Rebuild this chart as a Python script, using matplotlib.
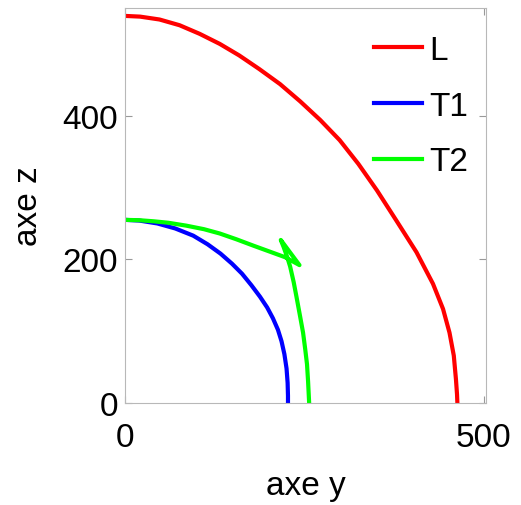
import matplotlib
matplotlib.use("Agg")
import matplotlib.pyplot as plt

plt.rcParams['font.family'] = ['Liberation Sans', 'DejaVu Sans']

# values (y, z)
L_y = [0, 21, 48, 76, 104, 132, 159, 187, 216, 244, 272, 299, 325, 351, 378,
       406, 429, 443, 452, 458, 461, 462.5, 463]
L_z = [539, 538, 534, 526, 514, 500, 484, 465, 444, 420, 394, 366, 333, 296, 254,
       210, 166, 131, 98, 66, 33, 12, 0]

T1_y = [0, 20, 45, 70, 95, 115, 133, 149, 163, 176, 188, 198, 206, 213, 218,
        222, 225, 226.5, 227, 227]
T1_z = [255, 254, 250, 243, 233, 221, 208, 194, 180, 164, 148, 133, 118, 102, 86,
        68, 48, 28, 10, 0]

T2_y = [0, 20, 40, 60, 85, 110, 132, 155, 179, 201, 223, 243,
        217, 221, 226, 230, 235, 239, 244, 248, 251, 253.5, 255, 256, 256.5]
T2_z = [255, 254.5, 253, 251, 247, 242, 236, 228, 219, 211, 203, 192,
        227, 217, 203, 190, 168, 147, 120, 98, 75, 54, 30, 10, 0]

fig = plt.figure(figsize=(5.21, 5.06), dpi=100)
ax = fig.add_axes([0.240, 0.2016, 0.693, 0.7806])

ax.plot(L_y, L_z, color=(1, 0, 0), lw=3, label="L")
ax.plot(T1_y, T1_z, color=(0, 0, 1), lw=3, label="T1")
ax.plot(T2_y, T2_z, color=(0, 1, 0), lw=3, label="T2")

ax.set_xlim(0, 503)
ax.set_ylim(0, 550)
ax.set_xticks([0, 500])
ax.set_yticks([0, 200, 400])
ax.tick_params(direction='in', length=5, color='0.6', labelsize=24,
               top=True, right=True)
ax.tick_params(axis='x', pad=14)
ax.tick_params(axis='y', pad=5)
for s in ax.spines.values():
    s.set_color('0.72')

ax.set_xlabel("axe y", fontsize=24, labelpad=12)
ax.set_ylabel("axe z", fontsize=24, labelpad=13)

ax.legend(loc='upper right', bbox_to_anchor=(1.019, 0.995), frameon=False,
          fontsize=24, handlelength=1.45, handletextpad=0.2, labelspacing=0.74,
          borderaxespad=0.35)

fig.savefig("out.png", dpi=100)
